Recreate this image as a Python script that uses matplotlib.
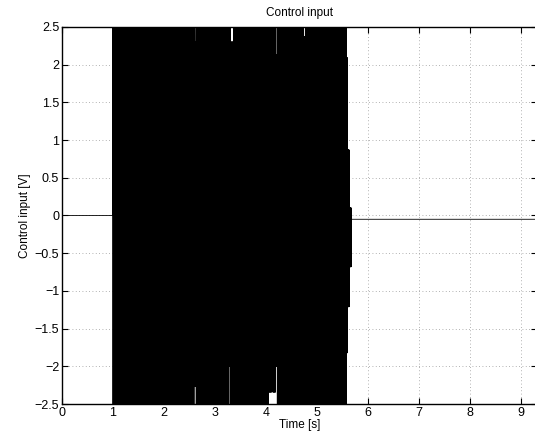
import numpy as np
import matplotlib
matplotlib.use("Agg")
import matplotlib.pyplot as plt

# sampling step of the simulated control signal [s]
sample_step = 0.002

# quiet parts of the signal (before and after the chattering)
t_start, t_end = 0.0, 9.3
u_before = 0.0
chatter_start = 1.0
chatter_stop = 5.67
u_after = -0.05

# chattering envelope:
# interval start [s], interval end [s], upper value [V], lower value [V]
env_t0 = [1.00, 2.59, 2.63, 2.86, 2.88, 3.27, 3.30, 3.37, 4.04, 4.11, 4.13, 4.19, 4.22, 4.27, 4.58, 4.60, 4.74, 4.78, 5.11, 5.13, 5.20, 5.25, 5.27, 5.57, 5.60, 5.63]
env_t1 = [2.59, 2.63, 2.86, 2.88, 3.27, 3.30, 3.37, 4.04, 4.11, 4.13, 4.19, 4.22, 4.27, 4.58, 4.60, 4.74, 4.78, 5.11, 5.13, 5.20, 5.25, 5.27, 5.57, 5.60, 5.63, 5.67]
env_hi = [2.6, 2.30, 2.6, 2.35, 2.6, 2.6, 2.30, 2.6, 2.6, 2.13, 2.6, 2.13, 2.6, 2.6, 2.40, 2.6, 2.37, 2.6, 2.13, 2.6, 2.6, 2.10, 2.6, 2.09, 0.87, 0.10]
env_lo = [-2.6, -2.26, -2.6, -2.6, -2.6, -2.00, -2.6, -2.6, -2.34, -2.00, -2.34, -2.00, -2.6, -2.6, -2.6, -2.6, -2.6, -2.6, -2.00, -2.6, -2.6, -2.28, -2.6, -1.82, -1.21, -0.68]

x_ticks = [0, 1, 2, 3, 4, 5, 6, 7, 8, 9]
y_ticks = [-2.5, -2, -1.5, -1, -0.5, 0, 0.5, 1, 1.5, 2, 2.5]

# build the signal: constant, then bang-bang switching inside the envelope, then constant
t_parts = [np.array([t_start, chatter_start])]
u_parts = [np.array([u_before, u_before])]
k = 0
for a, b, hi, lo in zip(env_t0, env_t1, env_hi, env_lo):
    ts = np.arange(a, b, sample_step)
    us = np.where((np.arange(len(ts)) + k) % 2 == 0, hi, lo)
    k += len(ts)
    t_parts.append(ts)
    u_parts.append(us)
t_parts.append(np.array([chatter_stop, t_end]))
u_parts.append(np.array([u_after, u_after]))
t = np.concatenate(t_parts)
u = np.concatenate(u_parts)

plt.rcParams["font.family"] = ["Liberation Sans", "DejaVu Sans"]

fig = plt.figure(figsize=(5.35, 4.36), dpi=100)
ax = fig.add_axes([62 / 535, 32 / 436, 475 / 535, 377 / 436])

ax.plot(t, u, color="black", linewidth=0.6)

ax.set_xlim(0, 475 / 51)
ax.set_ylim(-2.5, 2.5)
ax.set_xticks(x_ticks)
ax.set_yticks(y_ticks)
ax.set_yticklabels([("\u2212" if v < 0 else "") + f"{abs(v):g}" for v in y_ticks])

ax.grid(True, linestyle=(0, (1, 3)), color="0.6", linewidth=0.6)
ax.tick_params(direction="in", length=4, top=True, right=True, labelsize=9, pad=2)
for side in ["left", "bottom", "top"]:
    ax.spines[side].set_linewidth(1.0)
ax.spines["right"].set_visible(False)

ax.set_title("Control input", fontsize=8.5, pad=8)
ax.set_xlabel("Time [s]", fontsize=8.5, labelpad=0.5)
ax.set_ylabel("Control input [V]", fontsize=8.5, labelpad=3)

fig.savefig("out.png", dpi=100)
